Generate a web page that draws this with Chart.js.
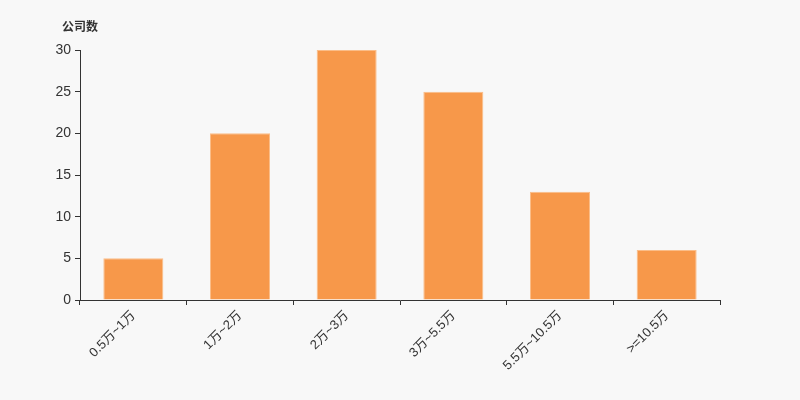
<!DOCTYPE html>
<html>
<head>
<meta charset="utf-8">
<script src="https://cdn.jsdelivr.net/npm/chart.js@4"></script>
<style>
  html, body { margin: 0; padding: 0; background: #f8f8f8; }
  #wrap { width: 800px; height: 400px; }
</style>
</head>
<body>
<div id="wrap"><canvas id="myChart" width="800" height="400"></canvas></div>
<script>
const categories = ['0.5万~1万', '1万~2万', '2万~3万', '3万~5.5万', '5.5万~10.5万', '>=10.5万'];
const companyCounts = [5, 20, 30, 25, 13, 6];
const yTicks = [0, 5, 10, 15, 20, 25, 30];

const fontFamily = '"Liberation Sans", Arial, "Noto Sans CJK SC", sans-serif';
const textColor = '#333';

// unit label above the y axis
const unitLabel = {
  id: 'unitLabel',
  afterDraw(chart) {
    const { ctx, chartArea } = chart;
    ctx.save();
    ctx.font = 'bold 12px ' + fontFamily;
    ctx.fillStyle = textColor;
    ctx.textBaseline = 'middle';
    ctx.fillText('公司数', chartArea.left - 18, chartArea.top - 22);
    ctx.restore();
  }
};

const myChartRef = document.getElementById('myChart').getContext('2d');

new Chart(myChartRef, {
  type: 'bar',
  data: {
    labels: categories,
    datasets: [{
      data: companyCounts,
      backgroundColor: '#f7984a',
      borderColor: '#fbbd88',
      borderWidth: 1,
      barPercentage: 0.5625,
      categoryPercentage: 1
    }]
  },
  options: {
    responsive: false,
    animation: false,
    layout: { padding: { top: 50, right: 80, left: 0, bottom: 0 } },
    plugins: {
      legend: { display: false },
      tooltip: { enabled: false }
    },
    scales: {
      x: {
        afterFit: (scale) => { scale.height = 100; },
        border: { display: true, color: textColor, width: 1 },
        grid: { offset: true, drawOnChartArea: false, drawTicks: true, tickLength: 5, color: textColor },
        ticks: {
          minRotation: 45,
          maxRotation: 45,
          color: textColor,
          font: { family: fontFamily, size: 13 },
          padding: 3
        }
      },
      y: {
        min: 0,
        max: 30,
        afterFit: (scale) => { scale.width = 80; },
        afterBuildTicks: (scale) => { scale.ticks = yTicks.map(v => ({ value: v })); },
        border: { display: true, color: textColor, width: 1 },
        grid: { drawOnChartArea: false, drawTicks: true, tickLength: 5, color: textColor },
        ticks: {
          color: textColor,
          font: { family: fontFamily, size: 14 },
          padding: 4
        }
      }
    }
  },
  plugins: [unitLabel]
});
</script>
</body>
</html>
